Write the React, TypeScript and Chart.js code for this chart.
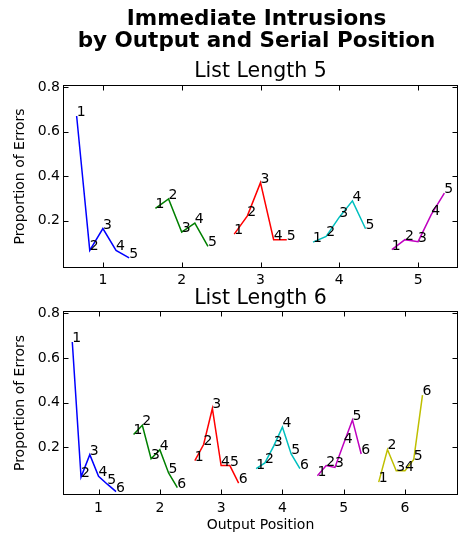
import React, { useEffect, useRef } from 'react';
import { Chart, registerables } from 'chart.js';

Chart.register(...registerables);

const FONT = '"DejaVu Sans", sans-serif';

// ---------- data ----------
const lineColors = ['#0000ff', '#008000', '#ff0000', '#00bfbf', '#bf00bf', '#bfbf00'];

const outputPositions5 = [1, 2, 3, 4, 5];
const outputPositions6 = [1, 2, 3, 4, 5, 6];
const serialPositions5 = [1, 2, 3, 4, 5];
const serialPositions6 = [1, 2, 3, 4, 5, 6];
const yTickValues = [0.2, 0.4, 0.6, 0.8];

// List length 5: proportion of errors per output position, by serial position
const ll5Op1 = [0.670, 0.067, 0.165, 0.067, 0.033];
const ll5Op2 = [0.255, 0.298, 0.149, 0.189, 0.085];
const ll5Op3 = [0.140, 0.222, 0.371, 0.115, 0.115];
const ll5Op4 = [0.104, 0.130, 0.216, 0.289, 0.164];
const ll5Op5 = [0.070, 0.115, 0.106, 0.227, 0.324];

// List length 6
const ll6Op1 = [0.671, 0.068, 0.168, 0.071, 0.036, 0.003];
const ll6Op2 = [0.258, 0.299, 0.150, 0.190, 0.086, 0.021];
const ll6Op3 = [0.141, 0.213, 0.374, 0.119, 0.119, 0.041];
const ll6Op4 = [0.105, 0.131, 0.206, 0.291, 0.171, 0.105];
const ll6Op5 = [0.074, 0.119, 0.111, 0.218, 0.323, 0.171];
const ll6Op6 = [0.045, 0.191, 0.096, 0.096, 0.146, 0.434];

const ll5Series = [ll5Op1, ll5Op2, ll5Op3, ll5Op4, ll5Op5];
const ll6Series = [ll6Op1, ll6Op2, ll6Op3, ll6Op4, ll6Op5, ll6Op6];

// ---------- helpers ----------
function makeDatasets(series: number[][], outputs: number[], serials: number[]) {
  const n = serials.length;
  const center = Math.floor(n / 2);
  return series.map((vals, i) => ({
    label: `Output ${outputs[i]}`,
    data: vals.map((v, j) => ({ x: outputs[i] + (j - center) / (n + 1), y: v })),
    serialLabels: serials.map(String),
    borderColor: lineColors[i],
    backgroundColor: lineColors[i],
    borderWidth: 1.5,
    pointRadius: 0,
    pointHoverRadius: 0,
    showLine: true,
    tension: 0,
    fill: false,
  }));
}

const frameTicksPlugin = {
  id: 'frameTicks',
  afterDatasetsDraw(chart: any) {
    const { ctx, chartArea, scales } = chart;
    const { left, right, top, bottom } = chartArea;
    const x = scales.x;
    const y = scales.y;
    const L = 5;
    ctx.save();
    ctx.strokeStyle = '#000';
    ctx.lineWidth = 1;
    ctx.beginPath();
    x.ticks.forEach((t: any) => {
      const px = Math.round(x.getPixelForValue(t.value)) + 0.5;
      ctx.moveTo(px, bottom);
      ctx.lineTo(px, bottom - L);
      ctx.moveTo(px, top);
      ctx.lineTo(px, top + L);
    });
    y.ticks.forEach((t: any) => {
      const py = Math.round(y.getPixelForValue(t.value)) + 0.5;
      ctx.moveTo(left, py);
      ctx.lineTo(left + L, py);
      ctx.moveTo(right, py);
      ctx.lineTo(right - L, py);
    });
    ctx.stroke();
    ctx.strokeRect(left, top, right - left, bottom - top);
    ctx.restore();
  },
};

const pointLabelPlugin = {
  id: 'pointLabels',
  afterDatasetsDraw(chart: any) {
    const ctx = chart.ctx;
    ctx.save();
    ctx.font = `14px ${FONT}`;
    ctx.fillStyle = '#000';
    ctx.textAlign = 'left';
    ctx.textBaseline = 'alphabetic';
    chart.data.datasets.forEach((ds: any, i: number) => {
      const meta = chart.getDatasetMeta(i);
      meta.data.forEach((el: any, j: number) => {
        ctx.fillText(ds.serialLabels[j], el.x, el.y);
      });
    });
    ctx.restore();
  },
};

const figureTitlePlugin = {
  id: 'figureTitles',
  afterDraw(chart: any, _args: any, opts: any) {
    const ctx = chart.ctx;
    const cx = (chart.chartArea.left + chart.chartArea.right) / 2;
    ctx.save();
    ctx.fillStyle = '#000';
    ctx.textAlign = 'center';
    ctx.textBaseline = 'alphabetic';
    (opts.lines || []).forEach((ln: any) => {
      ctx.font = `${ln.weight || 'normal'} ${ln.size}px ${FONT}`;
      ctx.fillText(ln.text, cx + (ln.dx || 0), ln.baseline);
    });
    ctx.restore();
  },
};

function makeConfig(opts: {
  series: number[][];
  outputs: number[];
  serials: number[];
  xMin: number;
  xMax: number;
  padTop: number;
  xHeight: number;
  xTickPad: number;
  xTitle?: string;
  titles: any[];
}) {
  const tickFont = { family: FONT, size: 14 };
  return {
    type: 'scatter' as const,
    data: { datasets: makeDatasets(opts.series, opts.outputs, opts.serials) as any },
    options: {
      responsive: false,
      animation: false as const,
      events: [],
      layout: { padding: { top: opts.padTop, left: 0, right: 1.5, bottom: 0 } },
      plugins: {
        legend: { display: false },
        tooltip: { enabled: false },
        title: { display: false },
        figureTitles: { lines: opts.titles },
      },
      scales: {
        x: {
          type: 'linear' as const,
          min: opts.xMin,
          max: opts.xMax,
          afterBuildTicks: (s: any) => {
            s.ticks = opts.outputs.map((v) => ({ value: v }));
          },
          afterFit: (s: any) => {
            s.height = opts.xHeight;
          },
          ticks: {
            font: tickFont,
            color: '#000',
            padding: opts.xTickPad,
            maxRotation: 0,
            autoSkip: false,
            callback: (v: any) => String(v),
          },
          grid: { display: false, drawTicks: false },
          border: { display: false },
          title: {
            display: !!opts.xTitle,
            text: opts.xTitle || '',
            font: tickFont,
            color: '#000',
            padding: { top: 0, bottom: 1.5 },
          },
        },
        y: {
          type: 'linear' as const,
          min: -0.01,
          max: 0.807,
          afterBuildTicks: (s: any) => {
            s.ticks = yTickValues.map((v) => ({ value: v }));
          },
          afterFit: (s: any) => {
            s.width = 63.5;
          },
          ticks: {
            font: tickFont,
            color: '#000',
            padding: 3.5,
            autoSkip: false,
            callback: (v: any) => Number(v).toFixed(1),
          },
          grid: { display: false, drawTicks: false },
          border: { display: false },
          title: {
            display: true,
            text: 'Proportion of Errors',
            font: tickFont,
            color: '#000',
            padding: { top: 11.5, bottom: 0 },
          },
        },
      },
    },
    plugins: [frameTicksPlugin, pointLabelPlugin, figureTitlePlugin],
  };
}

export default function App() {
  const topRef = useRef<HTMLCanvasElement>(null);
  const botRef = useRef<HTMLCanvasElement>(null);

  useEffect(() => {
    const c1 = new Chart(
      topRef.current as HTMLCanvasElement,
      makeConfig({
        series: ll5Series,
        outputs: outputPositions5,
        serials: serialPositions5,
        xMin: 0.5,
        xMax: 5.5,
        padTop: 85.5,
        xHeight: 22.5,
        xTickPad: 4,
        titles: [
          { text: 'Immediate Intrusions', size: 21.5, weight: 'bold', baseline: 25, dx: -4 },
          { text: 'by Output and Serial Position', size: 21.5, weight: 'bold', baseline: 46.7, dx: -4 },
          { text: 'List Length 5', size: 20.5, baseline: 76.7 },
        ],
      }) as any
    );
    const c2 = new Chart(
      botRef.current as HTMLCanvasElement,
      makeConfig({
        series: ll6Series,
        outputs: outputPositions6,
        serials: serialPositions6,
        xMin: 0.428,
        xMax: 6.857,
        padTop: 41.5,
        xHeight: 40.5,
        xTickPad: 5.5,
        xTitle: 'Output Position',
        titles: [{ text: 'List Length 6', size: 20.5, baseline: 34 }],
      }) as any
    );
    return () => {
      c1.destroy();
      c2.destroy();
    };
  }, []);

  return (
    <div style={{ position: 'absolute', left: 0, top: 0, width: 459, height: 535, background: '#fff' }}>
      <canvas ref={topRef} width={459} height={290} style={{ position: 'absolute', left: 0, top: 0 }} />
      <canvas ref={botRef} width={459} height={265} style={{ position: 'absolute', left: 0, top: 270 }} />
    </div>
  );
}
